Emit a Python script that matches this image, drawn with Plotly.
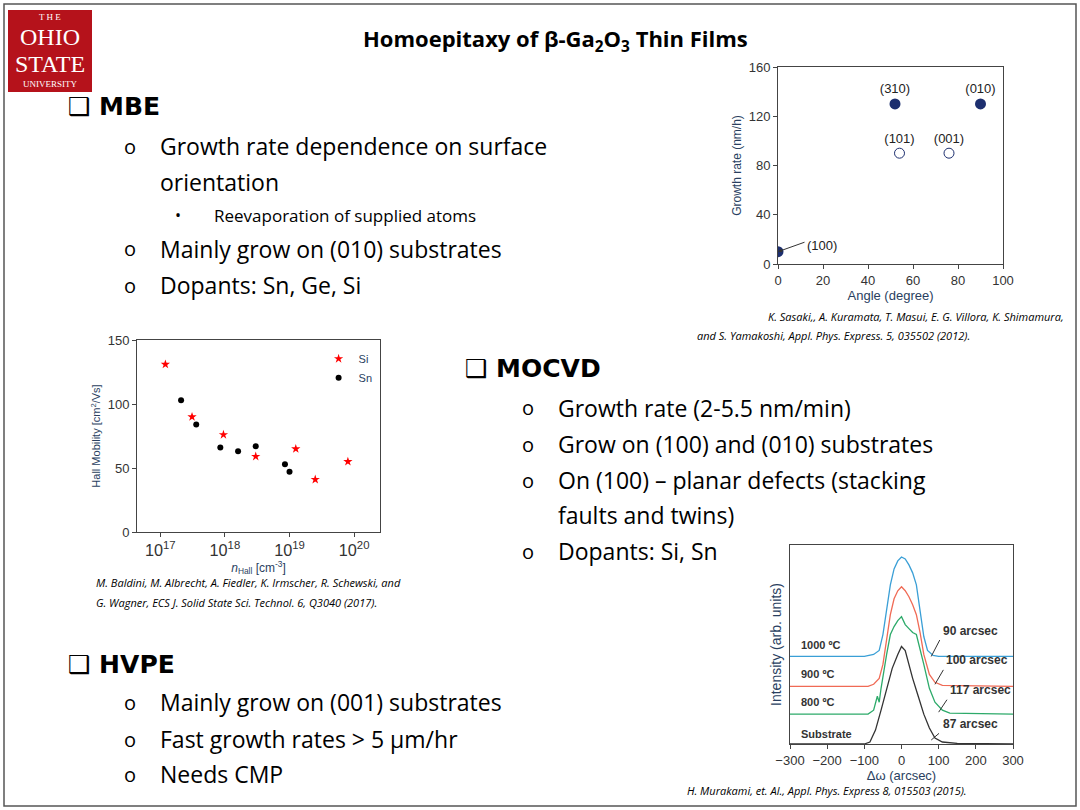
import plotly.graph_objects as go

W, H = 1080, 810

# growth rate vs angle (Sasaki)
ang_filled = [0, 52, 90]
rate_filled = [10, 130, 130]
ang_open = [54, 76]
rate_open = [90, 90]
plane_labels = ["(100)", "(310)", "(010)", "(101)", "(001)"]

# Hall mobility (Baldini)
si_n = [1.2e17, 3.1e17, 9.5e17, 3e18, 1.25e19, 2.5e19, 8e19]
si_mu = [131, 90, 76, 59, 65, 41, 55]
sn_n = [2.1e17, 3.6e17, 8.5e17, 1.6e18, 3e18, 8.5e18, 1e19]
sn_mu = [103, 84, 66, 63, 67, 53, 47]

# rocking curves (Murakami)
rc_1000_x = [-300, -100, -75, -60, -50, -40, -30, -20, -10, 0, 10, 20, 30, 40, 50, 60, 70, 85, 100, 300]
rc_1000_y = [44, 44, 45, 47, 55, 68, 80, 88, 92, 94, 93, 90, 86, 80, 68, 54, 47, 44.5, 44, 44]
rc_900_x = [-300, -90, -75, -60, -50, -40, -30, -20, -10, 0, 10, 20, 30, 40, 50, 60, 75, 90, 110, 300]
rc_900_y = [29, 29, 30, 33, 40, 52, 65, 73, 77, 79, 77, 74, 70, 65, 56, 45, 35, 31, 29.5, 29]
rc_800_x = [-300, -90, -75, -65, -60, -55, -40, -30, -20, -10, 0, 10, 20, 30, 40, 50, 60, 75, 90, 110, 130, 300]
rc_800_y = [15, 15, 17, 24, 21, 28, 45, 55, 59, 62, 64, 60, 58, 56, 55, 48, 40, 28, 21, 17, 15.5, 15]
rc_sub_x = [-300, -100, -85, -70, -55, -40, -25, -10, 0, 10, 20, 30, 45, 60, 75, 90, 110, 150, 300]
rc_sub_y = [0, 0, 1, 7, 17, 28, 38, 45, 49, 47, 40, 33, 24, 15, 8, 3, 1, 0.3, 0]
fwhm_labels = ["90 arcsec", "100 arcsec", "117 arcsec", "87 arcsec"]
temp_labels = ["1000 ºC", "900 ºC", "800 ºC", "Substrate"]


def px(x0, x1, y0, y1):
    return dict(x=[x0 / W, x1 / W], y=[1 - y1 / H, 1 - y0 / H])


fig = go.Figure()
f1 = "Liberation Sans"

# chart 1
fig.add_trace(go.Scatter(x=ang_filled, y=rate_filled, mode="markers+text", text=["", plane_labels[1], plane_labels[2]],
                         textposition="top center", textfont=dict(size=13, family=f1, color="#222"),
                         marker=dict(color="#1d2f6f", size=11), xaxis="x", yaxis="y", showlegend=False))
fig.add_trace(go.Scatter(x=ang_open, y=rate_open, mode="markers+text", text=plane_labels[3:],
                         textposition="top center", textfont=dict(size=13, family=f1, color="#222"),
                         marker=dict(color="white", size=10, line=dict(color="#1d2f6f", width=1)),
                         xaxis="x", yaxis="y", showlegend=False))
fig.add_annotation(x=0, y=10, ax=28, ay=-10, xref="x", yref="y", text="", showarrow=True,
                   arrowhead=2, arrowsize=0.8, arrowwidth=1, arrowcolor="#333")
fig.add_annotation(x=12, y=15, xref="x", yref="y", text=plane_labels[0], showarrow=False,
                   xanchor="left", font=dict(size=13, family=f1, color="#222"))

# chart 2
fig.add_trace(go.Scatter(x=si_n, y=si_mu, mode="markers", name="Si",
                         marker=dict(symbol="star", color="red", size=7), xaxis="x2", yaxis="y2"))
fig.add_trace(go.Scatter(x=sn_n, y=sn_mu, mode="markers", name="Sn",
                         marker=dict(color="black", size=6), xaxis="x2", yaxis="y2"))

# chart 3
for xs, ys, c in [(rc_1000_x, rc_1000_y, "#3a9fd6"), (rc_900_x, rc_900_y, "#f06a55"),
                  (rc_800_x, rc_800_y, "#2daa6a"), (rc_sub_x, rc_sub_y, "#333333")]:
    fig.add_trace(go.Scatter(x=xs, y=ys, mode="lines", line=dict(color=c, width=1.3),
                             xaxis="x3", yaxis="y3", showlegend=False))
for lbl, yv in zip(temp_labels, [50, 35, 21, 5]):
    fig.add_annotation(x=-275, y=yv, xref="x3", yref="y3", text="<b>" + lbl + "</b>", showarrow=False,
                       xanchor="left", font=dict(size=11, family=f1, color="#333"))
for lbl, x0, y0, yl in zip(fwhm_labels, [80, 90, 100, 80], [44, 30, 16, 2], [53, 38, 23, 6]):
    fig.add_annotation(x=x0, y=y0, xref="x3", yref="y3", ax=x0 + 25, ay=yl, axref="x3", ayref="y3",
                       text="", showarrow=True, arrowhead=0, arrowwidth=1, arrowcolor="#333")
    fig.add_annotation(x=x0 + 25, y=yl + 4, xref="x3", yref="y3", text="<b>" + lbl + "</b>", showarrow=False,
                       xanchor="left", font=dict(size=12, family=f1, color="#333"))

ax_common = dict(showgrid=False, zeroline=False, showline=True, linecolor="#444", mirror=True, automargin=False,
                 ticks="outside", ticklen=4, tickfont=dict(size=13, family=f1, color="#333"))
d1 = px(778, 1003, 67, 264)
d2 = px(137, 380, 340, 532)
d3 = px(790, 1013, 545, 744)
fig.update_layout(
    width=W, height=H, margin=dict(l=0, r=0, t=0, b=0, autoexpand=False),
    paper_bgcolor="white", plot_bgcolor="white",
    xaxis=dict(domain=d1["x"], range=[0, 100], dtick=20, anchor="y",
               title=dict(text="Angle (degree)", font=dict(size=13, family=f1), standoff=4), **ax_common),
    yaxis=dict(domain=d1["y"], range=[0, 160], dtick=40, anchor="x",
               title=dict(text="Growth rate (nm/h)", font=dict(size=12, family=f1), standoff=4), **ax_common),
    xaxis2=dict(domain=d2["x"], type="log", range=[16.64, 20.4], anchor="y2", dtick=1, exponentformat="power",
                title=dict(text="<i>n</i><sub>Hall</sub> [cm<sup>-3</sup>]", font=dict(size=12, family=f1), standoff=2),
                **ax_common),
    yaxis2=dict(domain=d2["y"], range=[0, 150], dtick=50, anchor="x2",
                title=dict(text="Hall Mobility [cm<sup>2</sup>/Vs]", font=dict(size=11, family=f1), standoff=4),
                **ax_common),
    xaxis3=dict(domain=d3["x"], range=[-300, 300], dtick=100, anchor="y3",
                title=dict(text="Δω (arcsec)", font=dict(size=13, family=f1), standoff=0), **ax_common),
    yaxis3=dict(domain=d3["y"], range=[0, 100], anchor="x3", showticklabels=False, automargin=False,
                title=dict(text="Intensity (arb. units)", font=dict(size=14, family=f1), standoff=4),
                showgrid=False, zeroline=False, showline=True, linecolor="#444", mirror=True, ticks=""),
    legend=dict(x=0.295, y=0.575, xanchor="left", yanchor="top", bgcolor="rgba(0,0,0,0)",
                font=dict(size=11, family=f1), tracegroupgap=0, itemwidth=30),
)

# slide frame and logo
fig.add_shape(type="rect", xref="paper", yref="paper", x0=4 / W, x1=1076 / W, y0=1 - 806 / H, y1=1 - 4 / H,
              line=dict(color="#555", width=1.5))
fig.add_shape(type="rect", xref="paper", yref="paper", x0=8 / W, x1=92 / W, y0=1 - 92 / H, y1=1 - 10 / H,
              line=dict(width=0), fillcolor="#b5121b")

fs = "Open Sans"


def txt(x, y, s, size=24, bold=False, italic=False, anchor="left", color="black", family=fs):
    if bold:
        s = "<b>" + s + "</b>"
    if italic:
        s = "<i>" + s + "</i>"
    fig.add_annotation(x=x / W, y=1 - y / H, xref="paper", yref="paper", text=s, showarrow=False,
                       xanchor=anchor, yanchor="middle", font=dict(size=size, family=family, color=color))


txt(50, 17, "T H E", 9, color="white", anchor="center", family="Liberation Serif")
txt(50, 37, "OHIO", 24, color="white", anchor="center", family="Liberation Serif")
txt(50, 64, "STATE", 24, color="white", anchor="center", family="Liberation Serif")
txt(50, 84, "UNIVERSITY", 9, color="white", anchor="center", family="Liberation Serif")

txt(555, 40, "Homoepitaxy of β-Ga<sub>2</sub>O<sub>3</sub> Thin Films", 22, bold=True, anchor="center")

txt(66, 107, "❑ MBE", 25, bold=True, family="DejaVu Sans")
for y, s in [(146, "Growth rate dependence on surface"), (249, "Mainly grow on (010) substrates"),
             (285, "Dopants: Sn, Ge, Si")]:
    txt(122, y, "o", 20)
    txt(158, y, s, 23)
txt(158, 182, "orientation", 23)
txt(173, 215, "•", 16)
txt(212, 215, "Reevaporation of supplied atoms", 17)

txt(1066, 317, "K. Sasaki,, A. Kuramata, T. Masui, E. G. Villora, K. Shimamura,", 11, italic=True, anchor="right")
txt(695, 336, "and S. Yamakoshi, Appl. Phys. Express. 5, 035502 (2012).", 11, italic=True)

txt(463, 369, "❑ MOCVD", 25, bold=True, family="DejaVu Sans")
for y, s in [(408, "Growth rate (2-5.5 nm/min)"), (444, "Grow on (100) and (010) substrates"),
             (480, "On (100) – planar defects (stacking"), (551, "Dopants: Si, Sn")]:
    txt(520, y, "o", 20)
    txt(556, y, s, 23)
txt(556, 515, "faults and twins)", 23)

txt(94, 582, "M. Baldini, M. Albrecht, A. Fiedler, K. Irmscher, R. Schewski, and", 11, italic=True)
txt(94, 602, "G. Wagner, ECS J. Solid State Sci. Technol. 6, Q3040 (2017).", 11, italic=True)

txt(66, 664, "❑ HVPE", 25, bold=True, family="DejaVu Sans")
for y, s in [(702, "Mainly grow on (001) substrates"), (739, "Fast growth rates > 5 μm/hr"), (774, "Needs CMP")]:
    txt(122, y, "o", 20)
    txt(158, y, s, 23)

txt(685, 790, "H. Murakami, et. Al., Appl. Phys. Express 8, 015503 (2015).", 11, italic=True)

fig.write_html("out.html", config={"displayModeBar": False},
               post_script="document.body.style.margin='0';")
